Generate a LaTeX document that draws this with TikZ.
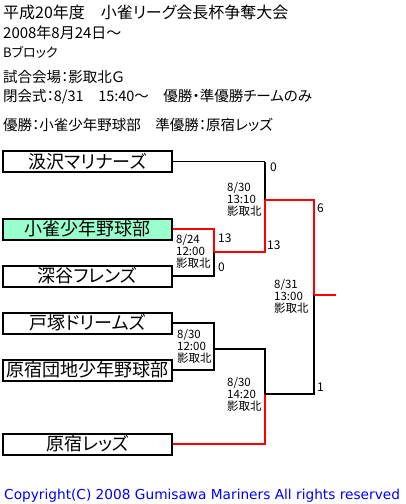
\documentclass[tikz,border=0pt]{standalone}
\usepackage{fontspec}
\setmainfont{Liberation Sans}
\newfontfamily\cjk[RawFeature=+palt]{Noto Sans CJK JP}
\newfontfamily\copyfont{DejaVu Sans}
\definecolor{winred}{RGB}{255,0,0}
\definecolor{mint}{RGB}{153,255,204}
\definecolor{copyblue}{RGB}{0,0,255}
\begin{document}
\begin{tikzpicture}[x=1pt, y=-1pt, line join=miter,
	team/.style={draw=black, line width=2pt, minimum width=169pt, minimum height=21pt, inner sep=0pt, font=\cjk\fontsize{18}{18}\selectfont},
	head/.style={anchor=base west, inner sep=0pt, font=\cjk\fontsize{14.5}{14.5}\selectfont},
	game/.style={anchor=north west, inner sep=0pt, align=left, font=\cjk\fontsize{11.5}{12}\selectfont},
	score/.style={anchor=west, inner sep=0pt, font=\cjk\fontsize{12}{12}\selectfont},
	lose/.style={black, line width=1.6pt},
	win/.style={winred, line width=1.6pt}]
	\useasboundingbox (0,0) rectangle (406,504);
	
	% 1. 見出し
	\node[head, font=\cjk\fontsize{16}{16}\selectfont] (title) at (3,18) {平成20年度　小雀リーグ会長杯争奪大会};
	\node[head, font=\cjk\fontsize{15}{15}\selectfont] (date) at (3,38) {2008年8月24日～};
	\node[head, font=\cjk\fontsize{13}{13}\selectfont] (block) at (3,57) {Bブロック};
	\node[head] (site) at (3,82) {試合会場：影取北Ｇ};
	\node[head] (close) at (3,101) {閉会式：8/31　15:40～　優勝・準優勝チームのみ};
	\node[head] (result) at (3,130) {優勝：小雀少年野球部　準優勝：原宿レッズ};
	
	% 2. チーム枠
	\node[team] (t1) at (87.5,161.5) {汲沢マリナーズ};
	\node[team, fill=mint] (t2) at (87.5,229) {小雀少年野球部};
	\node[team] (t3) at (87.5,276) {深谷フレンズ};
	\node[team] (t4) at (87.5,323) {戸塚ドリームズ};
	\node[team] (t5) at (87.5,370) {原宿団地少年野球部};
	\node[team] (t6) at (87.5,444) {原宿レッズ};
	
	% 3. 組合せの分岐点
	\coordinate (m1) at (214,252);
	\coordinate (m2) at (265,200);
	\coordinate (m3) at (214,349);
	\coordinate (m4) at (265,394);
	\coordinate (fin) at (314,295);
	\coordinate (champ) at (336,295);
	
	% 4. 1回戦
	\draw[win] (t2.east) -| (m1);
	\draw[lose] (t3.east) -| (m1);
	\draw[lose] (t4.east) -| (m3);
	\draw[lose] (t5.east) -| (m3);
	
	% 5. 2回戦
	\draw[lose, line width=1pt] (t1.east) -- (m2 |- t1.east);
	\draw[lose] (m2 |- t1.east) -- (m2);
	\draw[win] (m1) -| (m2);
	\draw[lose] (m3) -| (m4);
	\draw[win] (t6.east) -| (m4);
	
	% 6. 決勝
	\draw[win] (m2) -| (fin);
	\draw[lose] (m4) -| (fin);
	\draw[win] (fin) -- (champ);
	
	% 7. 日時・会場と得点
	\node[game] (g1) at (176,234) {8/24\\12:00\\影取北};
	\node[game] (g2) at (227,182) {8/30\\13:10\\影取北};
	\node[game] (g3) at (177,329) {8/30\\12:00\\影取北};
	\node[game] (g4) at (227,377) {8/30\\14:20\\影取北};
	\node[game] (g5) at (274,279) {8/31\\13:00\\影取北};
	\node[score] (s1) at (218,238) {13};
	\node[score] (s2) at (218,267) {0};
	\node[score] (s3) at (270,167) {0};
	\node[score] (s4) at (267,245) {13};
	\node[score] (s5) at (317,208) {6};
	\node[score] (s6) at (317,387) {1};
	
	% 8. 著作権表示
	\node[head, text=copyblue, font=\copyfont\fontsize{13.7}{13.7}\selectfont] (copy) at (4,499) {Copyright(C) 2008 Gumisawa Mariners All rights reserved};
\end{tikzpicture}
\end{document}
